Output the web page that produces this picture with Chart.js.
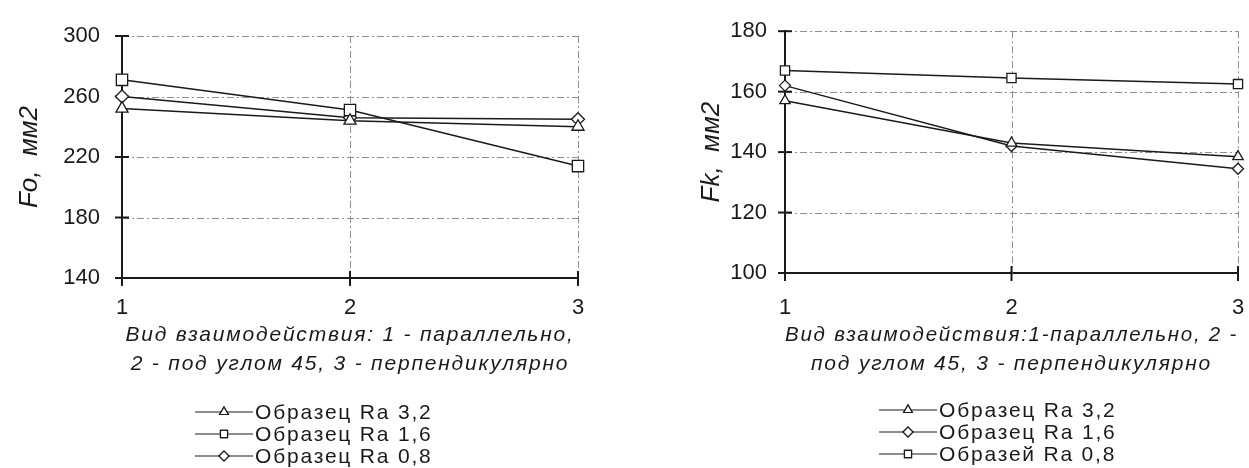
<!DOCTYPE html>
<html><head><meta charset="utf-8">
<script src="https://cdn.jsdelivr.net/npm/chart.js@4/dist/chart.umd.min.js"></script>
<style>
html,body{margin:0;padding:0;background:#fff;}
#wrap{position:relative;width:1249px;height:468px;overflow:hidden;background:#fff;}
.box{position:absolute;top:0;height:468px;}
</style></head>
<body><div id="wrap">
<div class="box" style="left:0;width:620px"><canvas id="c1" width="620" height="468"></canvas></div>
<div class="box" style="left:620px;width:629px"><canvas id="c2" width="629" height="468"></canvas></div>
</div>
<script>
// ---- data ----
const categories = ['1', '2', '3'];
const foTicks = [140, 180, 220, 260, 300];
const fkTicks = [100, 120, 140, 160, 180];
const foRa32 = [252, 244, 240];
const foRa16 = [271, 251, 214];
const foRa08 = [260, 246, 245];
const fkRa32 = [157, 143, 138.5];
const fkRa16 = [162, 142, 134.5];
const fkRa08 = [167, 164.5, 162.5];
const foLabels = ['Образец Ra 3,2', 'Образец Ra 1,6', 'Образец Ra 0,8'];
const fkLabels = ['Образец Ra 3,2', 'Образец Ra 1,6', 'Образей Ra 0,8'];
const foTitleY = 'Fo,  мм2';
const fkTitleY = 'Fk,  мм2';
const foTitleX = ['Вид взаимодействия: 1 - параллельно,', '2 - под углом 45, 3 - перпендикулярно'];
const fkTitleX = ['Вид взаимодействия:1-параллельно, 2 -', 'под углом 45, 3 - перпендикулярно'];

const FONT = "'Liberation Sans', Arial, sans-serif";
const INK = '#1a1a1a';
const SPACING = '1.8px';

function ds(label, data, style, r) {
  return {label, data, borderColor: INK, borderWidth: 1.5, backgroundColor: '#fff',
    pointStyle: style, pointRadius: r, pointBorderWidth: 1.3, pointBackgroundColor: '#fff',
    pointBorderColor: INK, tension: 0, clip: false};
}

const gridPlugin = {
  id: 'gridCross',
  beforeDraw(chart) {
    const xs = chart.scales.x;
    if (xs && !xs._spacedTitle) {
      const orig = xs.drawTitle;
      xs.drawTitle = function (...a) {
        const c = this.ctx; const prev = c.letterSpacing;
        c.letterSpacing = SPACING; orig.apply(this, a); c.letterSpacing = prev || '0px';
      };
      xs._spacedTitle = true;
    }
  },
  beforeDatasetsDraw(chart) {
    const {ctx, chartArea: a, scales: {x, y}} = chart;
    ctx.save();
    ctx.strokeStyle = '#8f8f8f'; ctx.lineWidth = 1; ctx.setLineDash([7, 3, 2, 3]);
    y.ticks.forEach(t => { if (t.value === y.min) return; const py = Math.round(y.getPixelForValue(t.value)) + 0.5;
      ctx.beginPath(); ctx.moveTo(a.left, py); ctx.lineTo(a.right, py); ctx.stroke(); });
    categories.forEach((c, i) => { if (i === 0) return; const px = Math.round(x.getPixelForValue(i)) + 0.5;
      ctx.beginPath(); ctx.moveTo(px, a.top); ctx.lineTo(px, a.bottom); ctx.stroke(); });
    ctx.setLineDash([]); ctx.strokeStyle = INK; ctx.lineWidth = 2;
    y.ticks.forEach(t => { const py = y.getPixelForValue(t.value);
      ctx.beginPath(); ctx.moveTo(a.left - 7, py); ctx.lineTo(a.left + 7, py); ctx.stroke(); });
    categories.forEach((c, i) => { const px = x.getPixelForValue(i);
      ctx.beginPath(); ctx.moveTo(px, a.bottom - 7); ctx.lineTo(px, a.bottom + 8); ctx.stroke(); });
    ctx.restore();
  }
};

const legendPlugin = {
  id: 'rowLegend',
  afterDraw(chart, args, opts) {
    const {ctx} = chart;
    ctx.save();
    chart.data.datasets.forEach((d, i) => {
      const y = opts.y0 + i * opts.dy;
      ctx.letterSpacing = '0px';
      ctx.strokeStyle = INK; ctx.lineWidth = 1.2; ctx.setLineDash([]);
      ctx.beginPath(); ctx.moveTo(opts.x, y); ctx.lineTo(opts.x + opts.len, y); ctx.stroke();
      ctx.fillStyle = '#fff';
      Chart.helpers.drawPoint(ctx, {pointStyle: d.pointStyle, radius: 5, borderWidth: 1.1, rotation: 0}, opts.x + opts.len / 2, y);
      ctx.fill(); ctx.stroke();
      ctx.fillStyle = INK; ctx.font = '21px ' + FONT; ctx.textBaseline = 'middle'; ctx.textAlign = 'left';
      ctx.letterSpacing = SPACING;
      ctx.fillText(d.label, opts.x + opts.len + 2, y + 1);
    });
    ctx.restore();
  }
};

function makeChart(id, sets, ticks, yTitle, xTitle, geo) {
  return new Chart(document.getElementById(id), {
    type: 'line',
    data: {labels: categories, datasets: sets},
    plugins: [gridPlugin, legendPlugin],
    options: {
      responsive: false, animation: false,
      layout: {padding: {top: geo.top, right: geo.right, left: 0, bottom: 0}},
      plugins: {legend: {display: false}, tooltip: {enabled: false},
        rowLegend: {x: geo.legX, y0: geo.legY, dy: 22, len: 58}},
      scales: {
        x: {type: 'category', offset: false,
          afterFit(s) { s.height = 468 - geo.bottom; },
          grid: {display: false, drawTicks: true, tickLength: geo.xTickLen, color: 'transparent'},
          border: {display: true, color: INK, width: 2},
          ticks: {color: INK, font: {family: FONT, size: 22}, padding: 0, maxRotation: 0, autoSkip: false},
          title: {display: true, text: xTitle, color: INK, font: {family: FONT, size: 21, style: 'italic', lineHeight: 29 / 21},
            padding: {top: 0, bottom: 89}}},
        y: {min: ticks[0], max: ticks[ticks.length - 1],
          afterFit(s) { s.width = geo.left; },
          afterBuildTicks(s) { s.ticks = ticks.map(v => ({value: v})); },
          grid: {display: false, drawTicks: false},
          border: {display: true, color: INK, width: 2},
          ticks: {color: INK, font: {family: FONT, size: 22}, padding: geo.yTickPad},
          title: {display: true, text: yTitle, color: INK, font: {family: FONT, size: 26, style: 'italic'},
            padding: {top: geo.yTitlePad, bottom: 0}}}
      }
    }
  });
}

makeChart('c1', [ds(foLabels[0], foRa32, 'triangle', 7), ds(foLabels[1], foRa16, 'rect', 8), ds(foLabels[2], foRa08, 'rectRot', 6.5)],
  foTicks, foTitleY, foTitleX,
  {top: 36, right: 42, left: 122, bottom: 278, xTickLen: 17, yTickPad: 22, yTitlePad: 14, legX: 195, legY: 412});
makeChart('c2', [ds(fkLabels[0], fkRa32, 'triangle', 6), ds(fkLabels[1], fkRa16, 'rectRot', 5.5), ds(fkLabels[2], fkRa08, 'rect', 6.5)],
  fkTicks, fkTitleY, fkTitleX,
  {top: 24, right: 11, left: 165, bottom: 273, xTickLen: 22, yTickPad: 18, yTitlePad: 76, legX: 259, legY: 410});
</script>
</body></html>
